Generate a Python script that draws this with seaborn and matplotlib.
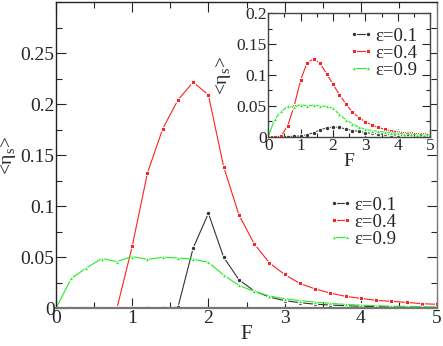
import numpy as np
import pandas as pd
import matplotlib
matplotlib.use("Agg")
import matplotlib.pyplot as plt
import seaborn as sns
from matplotlib.ticker import MultipleLocator

F = [round(0.2 * i, 1) for i in range(26)]
labels = ["ε=0.1", "ε=0.4", "ε=0.9"]
colors = ["#333333", "#ff2020", "#22ee22"]
markers = ["o", "s", "^"]

main_e01 = [0, 0, 0, 0, 0, 0, 0, 0, 0.001, 0.059, 0.093, 0.050, 0.028, 0.017, 0.011,
            0.0075, 0.0055, 0.004, 0.0032, 0.0025, 0.002, 0.0017, 0.0014, 0.0012, 0.001, 0.0009]
main_e04 = [0, 0, 0, 0, 0, 0.0607, 0.1325, 0.1757, 0.204, 0.2215, 0.209, 0.1387, 0.0916,
            0.0633, 0.0445, 0.0331, 0.0243, 0.019, 0.0149, 0.0117, 0.0097, 0.0078, 0.0068,
            0.0058, 0.0045, 0.0039]
main_e09 = [0, 0.0292, 0.0396, 0.0487, 0.0458, 0.0507, 0.0478, 0.050, 0.0493, 0.048, 0.0451,
            0.0325, 0.0224, 0.0166, 0.012, 0.0094, 0.0075, 0.006, 0.0048, 0.0038, 0.003,
            0.0025, 0.002, 0.0018, 0.0015, 0.0013]

ins_e01 = [0, 0, 0, 0, 0.001, 0.001, 0.0033, 0.0066, 0.011, 0.0143, 0.0154, 0.0154, 0.012,
           0.010, 0.0085, 0.0066, 0.0055, 0.0045, 0.0038, 0.003, 0.0025, 0.002, 0.0018,
           0.0015, 0.0013, 0.0011]
ins_e04 = [0, 0, 0.001, 0.018, 0.050, 0.092, 0.120, 0.126, 0.119, 0.102, 0.085, 0.068, 0.053,
           0.040, 0.031, 0.024, 0.019, 0.015, 0.012, 0.0095, 0.008, 0.0065, 0.0055, 0.0045,
           0.004, 0.0035]
ins_e09 = [0, 0.029, 0.041, 0.049, 0.048, 0.052, 0.050, 0.051, 0.050, 0.049, 0.046, 0.036,
           0.0275, 0.021, 0.0155, 0.012, 0.010, 0.0085, 0.0075, 0.0065, 0.0055, 0.0048,
           0.004, 0.0035, 0.003, 0.0027]


def long_df(series):
    rows = []
    for lab, ys in zip(labels, series):
        for f, y in zip(F, ys):
            rows.append({"F": f, "eta": y, "eps": lab})
    return pd.DataFrame(rows)


df_main = long_df([main_e01, main_e04, main_e09])
df_ins = long_df([ins_e01, ins_e04, ins_e09])

sns.set_theme(style="ticks")
plt.rcParams["font.family"] = ["Liberation Serif", "DejaVu Serif"]
plt.rcParams["mathtext.fontset"] = "custom"
plt.rcParams["mathtext.rm"] = "Liberation Serif"

fig = plt.figure(figsize=(4.43, 3.46), dpi=100)
ax = fig.add_axes([0.1264, 0.109, 0.8601, 0.8852])
axi = fig.add_axes([0.6057, 0.6049, 0.365, 0.3567])

pal = dict(zip(labels, colors))
mk = dict(zip(labels, markers))

for a, df in [(ax, df_main), (axi, df_ins)]:
    sns.lineplot(data=df, x="F", y="eta", hue="eps", style="eps", palette=pal,
                 markers=mk, dashes=False, linewidth=0.8, markersize=3.2,
                 markeredgewidth=0.7, ax=a, legend=True, sort=False)

ylab = "<η$_\\mathrm{s}$>"

# main axes
ax.set_xlim(0, 5)
ax.set_ylim(0, 0.3)
ax.set_xticks([0, 1, 2, 3, 4, 5])
ax.set_yticks([0, 0.05, 0.1, 0.15, 0.2, 0.25])
ax.set_yticklabels(["0", "0.05", "0.1", "0.15", "0.2", "0.25"])
ax.xaxis.set_minor_locator(MultipleLocator(0.5))
ax.yaxis.set_minor_locator(MultipleLocator(0.025))
ax.tick_params(which="both", direction="in", top=True, right=True, labelsize=14, pad=1)
ax.tick_params(which="major", length=7, width=0.8)
ax.tick_params(which="minor", length=4, width=0.8)
ax.set_xlabel("F", fontsize=15, labelpad=-1)
ax.set_ylabel(ylab, fontsize=14, labelpad=0)
ax.yaxis.set_label_coords(-0.1, 0.5)
for name, s in ax.spines.items():
    s.set_linewidth(1.0)
    s.set_color("#222222" if name in ("left", "top") else "#777777")
ax.spines["bottom"].set_linewidth(1.6)
ax.legend(loc="upper left", bbox_to_anchor=(0.69, 0.395), frameon=False, fontsize=13.5,
          handlelength=1.3, handletextpad=0.1, labelspacing=0.0, borderpad=0,
          numpoints=2)

# inset
axi.set_xlim(0, 5)
axi.set_ylim(0, 0.2)
axi.set_xticks([0, 1, 2, 3, 4, 5])
axi.set_yticks([0, 0.05, 0.1, 0.15, 0.2])
axi.set_yticklabels(["0", "0.05", "0.1", "0.15", "0.2"])
axi.xaxis.set_minor_locator(MultipleLocator(0.5))
axi.yaxis.set_minor_locator(MultipleLocator(0.025))
axi.tick_params(which="both", direction="in", top=True, right=True, labelsize=12.5, pad=1)
axi.tick_params(which="major", length=6, width=0.8)
axi.tick_params(which="minor", length=3, width=0.8)
axi.set_xlabel("F", fontsize=14, labelpad=-1)
axi.set_ylabel(ylab, fontsize=14, labelpad=0)
axi.yaxis.set_label_coords(-0.22, 0.5)
axi.patch.set_facecolor("white")
for s in axi.spines.values():
    s.set_linewidth(1.0)
    s.set_color("#444444")
axi.legend(loc="upper left", bbox_to_anchor=(0.44, 0.96), frameon=False, fontsize=13.5,
           handlelength=1.3, handletextpad=0.1, labelspacing=0.0, borderpad=0,
           numpoints=2)

fig.savefig("out.png", dpi=100)
